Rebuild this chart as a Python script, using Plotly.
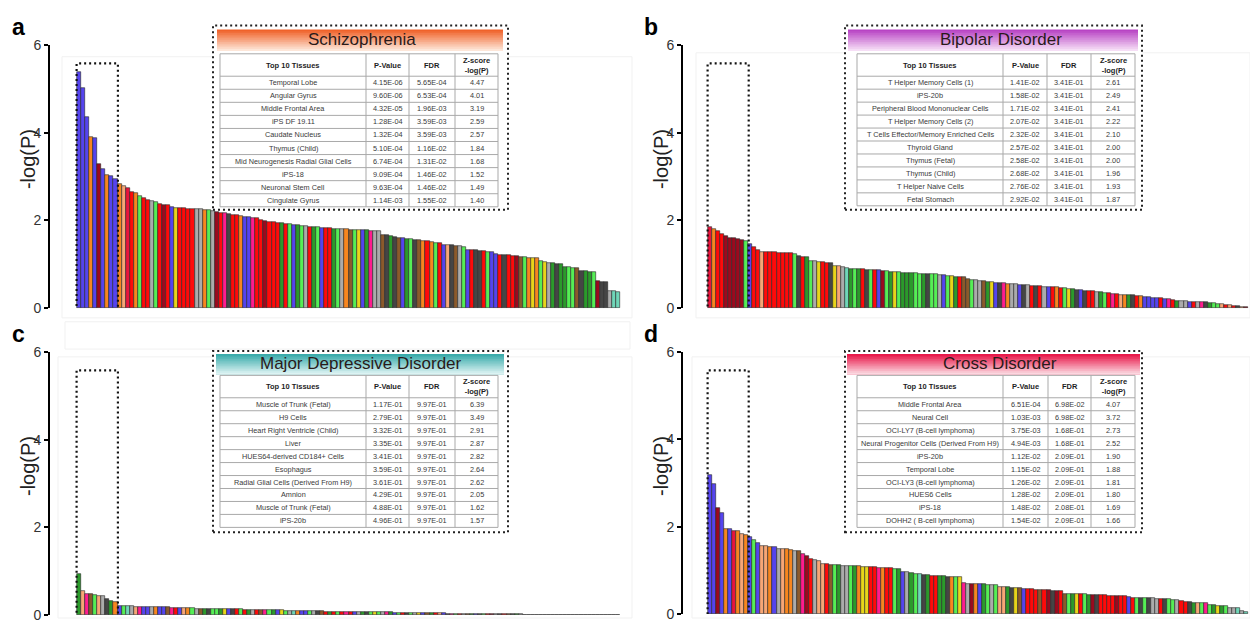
import numpy as np
import plotly.graph_objects as go

W, H = 1250, 626
FONT = "Arial, Liberation Sans, sans-serif"

# ---------------- data ----------------
# Schizophrenia
scz_tissues = ["Temporal Lobe", "Angular Gyrus", "Middle Frontal Area", "iPS DF 19.11",
               "Caudate Nucleus", "Thymus (Child)", "Mid Neurogenesis Radial Glial Cells",
               "iPS-18", "Neuronal Stem Cell", "Cingulate Gyrus"]
scz_p = ["4.15E-06", "9.60E-06", "4.32E-05", "1.28E-04", "1.32E-04",
         "5.10E-04", "6.74E-04", "9.09E-04", "9.63E-04", "1.14E-03"]
scz_fdr = ["5.65E-04", "6.53E-04", "1.96E-03", "3.59E-03", "3.59E-03",
           "1.16E-02", "1.31E-02", "1.46E-02", "1.46E-02", "1.55E-02"]
scz_z = ["4.47", "4.01", "3.19", "2.59", "2.57", "1.84", "1.68", "1.52", "1.49", "1.40"]
scz_rest = [2.82, 2.79, 2.74, 2.64, 2.62, 2.55, 2.51, 2.47, 2.44, 2.42,
            2.38, 2.36, 2.34, 2.31, 2.29, 2.28, 2.28, 2.27, 2.27, 2.26,
            2.25, 2.24, 2.23, 2.21, 2.20, 2.18, 2.16, 2.14, 2.13, 2.12,
            2.10, 2.08, 2.07, 2.06, 2.05, 2.02, 1.99, 1.97, 1.96, 1.95,
            1.93, 1.92, 1.91, 1.90, 1.89, 1.88, 1.87, 1.86, 1.85, 1.84,
            1.83, 1.82, 1.82, 1.81, 1.81, 1.80, 1.80, 1.79, 1.79, 1.78,
            1.77, 1.77, 1.76, 1.76, 1.75, 1.67, 1.66, 1.65, 1.63, 1.61,
            1.59, 1.58, 1.57, 1.56, 1.55, 1.53, 1.52, 1.50, 1.49, 1.48,
            1.45, 1.44, 1.43, 1.42, 1.41, 1.40, 1.33, 1.32, 1.32, 1.31,
            1.30, 1.29, 1.28, 1.23, 1.22, 1.21, 1.20, 1.19, 1.18, 1.17,
            1.16, 1.15, 1.15, 1.14, 1.07, 1.06, 1.04, 1.02, 1.01, 1.00,
            0.94, 0.93, 0.92, 0.91, 0.85, 0.84, 0.83, 0.82, 0.61, 0.60,
            0.59, 0.39, 0.38, 0.37]
scz_groups = ("BBBOBDBOBB" "OSCROLRRGL" "RDRBYRRRRG" "GOLGDRPKRR" "OBBPRRDRRR"
              "FRLBFLGRFL" "BRRFLGONLY" "BFPGGNKFKN" "BFLKNOROLR" "BSKNGLBRKK"
              "RLBBRKRRDN" "LOYOLYGFKF" "FLLNKFFLDK" "KGAA")

# Bipolar Disorder
bip_tissues = ["T Helper Memory Cells (1)", "iPS-20b", "Peripheral Blood Mononuclear Cells",
               "T Helper Memory Cells (2)", "T Cells Effector/Memory Enriched Cells",
               "Thyroid Gland", "Thymus (Fetal)", "Thymus (Child)", "T Helper Naive Cells",
               "Fetal Stomach"]
bip_p = ["1.41E-02", "1.58E-02", "1.71E-02", "2.07E-02", "2.32E-02",
         "2.57E-02", "2.58E-02", "2.68E-02", "2.76E-02", "2.92E-02"]
bip_fdr = ["3.41E-01"] * 10
bip_z = ["2.61", "2.49", "2.41", "2.22", "2.10", "2.00", "2.00", "1.96", "1.93", "1.87"]
bip_rest = [1.46, 1.40, 1.33, 1.29, 1.27, 1.27, 1.27, 1.26, 1.26, 1.26,
            1.25, 1.24, 1.18, 1.17, 1.16, 1.08, 1.07, 1.06, 1.05, 1.04,
            1.03, 0.97, 0.95, 0.93, 0.91, 0.90, 0.90, 0.89, 0.89, 0.88,
            0.88, 0.87, 0.87, 0.85, 0.84, 0.83, 0.83, 0.82, 0.81, 0.80,
            0.80, 0.79, 0.78, 0.78, 0.77, 0.77, 0.77, 0.76, 0.76, 0.74,
            0.73, 0.72, 0.71, 0.70, 0.66, 0.65, 0.64, 0.62, 0.61, 0.60,
            0.59, 0.58, 0.58, 0.57, 0.56, 0.55, 0.54, 0.53, 0.53, 0.52,
            0.51, 0.51, 0.50, 0.49, 0.48, 0.47, 0.47, 0.46, 0.45, 0.44,
            0.43, 0.42, 0.41, 0.40, 0.39, 0.38, 0.37, 0.36, 0.35, 0.34,
            0.33, 0.32, 0.31, 0.30, 0.29, 0.29, 0.28, 0.27, 0.26, 0.25,
            0.24, 0.23, 0.22, 0.21, 0.20, 0.18, 0.17, 0.16, 0.16, 0.15,
            0.15, 0.14, 0.14, 0.13, 0.12, 0.11, 0.10, 0.09, 0.08, 0.07,
            0.05, 0.04, 0.03, 0.02]
bip_groups = ("CORRDDDDDL" "BRRSRRRRRR" "RLKRFLGYRR" "KYSGAFLFRK" "LRBDLFYLFF"
              "FLLFKLLGBL" "YFRNNLGGNF" "YBKPOGGBKG" "RKRGBRORLY" "FKBKRRGFLR"
              "PRSOFKROBB" "BBRBPRFGGB" "RGPKFLLSRS" "RKSD")

# Major Depressive Disorder
mdd_tissues = ["Muscle of Trunk (Fetal)", "H9 Cells", "Heart Right Ventricle (Child)", "Liver",
               "HUES64-derived CD184+ Cells", "Esophagus", "Radial Glial Cells (Derived From H9)",
               "Amnion", "Muscle of Trunk (Fetal)", "iPS-20b"]
mdd_p = ["1.17E-01", "2.79E-01", "3.32E-01", "3.35E-01", "3.41E-01",
         "3.59E-01", "3.61E-01", "4.29E-01", "4.88E-01", "4.96E-01"]
mdd_fdr = ["9.97E-01"] * 10
mdd_z = ["6.39", "3.49", "2.91", "2.87", "2.82", "2.64", "2.62", "2.05", "1.62", "1.57"]
mdd_rest = [0.21, 0.20, 0.20, 0.20, 0.19, 0.19, 0.19, 0.19, 0.18, 0.18,
            0.18, 0.18, 0.18, 0.17, 0.17, 0.16, 0.16, 0.16, 0.16, 0.15,
            0.15, 0.15, 0.15, 0.14, 0.14, 0.14, 0.14, 0.13, 0.13, 0.13,
            0.13, 0.12, 0.12, 0.12, 0.12, 0.12, 0.11, 0.11, 0.11, 0.11,
            0.11, 0.10, 0.10, 0.10, 0.10, 0.10, 0.09, 0.09, 0.09, 0.09,
            0.09, 0.08, 0.08, 0.08, 0.08, 0.08, 0.08, 0.07, 0.07, 0.07,
            0.07, 0.07, 0.07, 0.06, 0.06, 0.06, 0.06, 0.06, 0.05, 0.05,
            0.05, 0.05, 0.05, 0.05, 0.04, 0.04, 0.04, 0.04, 0.04, 0.04,
            0.04, 0.03, 0.03, 0.03, 0.03, 0.03, 0.03, 0.03, 0.03, 0.02,
            0.02, 0.02, 0.02, 0.02, 0.02, 0.02, 0.02, 0.02, 0.02, 0.02,
            0.01, 0.01, 0.01, 0.01, 0.01, 0.01, 0.01, 0.01, 0.01, 0.01,
            0.01, 0.01, 0.01, 0.01, 0.01, 0.01, 0.01, 0.01, 0.01, 0.01,
            0.01, 0.01, 0.005, 0.005]
mdd_groups = ("FSPNLSGKFO" "BLAGSPBBGO" "BBNPRBSOLG" "NFKLLFYBKR" "LRFGRNPLFB"
              "YLGAOBBLGK" "NRFRLRPRBG" "FKLYLGPFBL" "RKLGYBNFRS" "BKPLRGNFBK"
              "LRDGKRNKFG" "RBLNKGSKDR" "KNGDKGKNKG" "KNKG")

# Cross Disorder
crs_tissues = ["Middle Frontal Area", "Neural Cell", "OCI-LY7 (B-cell lymphoma)",
               "Neural Progenitor Cells (Derived From H9)", "iPS-20b", "Temporal Lobe",
               "OCI-LY3 (B-cell lymphoma)", "HUES6 Cells", "iPS-18", "DOHH2 ( B-cell lymphoma)"]
crs_p = ["6.51E-04", "1.03E-03", "3.75E-03", "4.94E-03", "1.12E-02",
         "1.15E-02", "1.26E-02", "1.28E-02", "1.48E-02", "1.54E-02"]
crs_fdr = ["6.98E-02", "6.98E-02", "1.68E-01", "1.68E-01", "2.09E-01",
           "2.09E-01", "2.09E-01", "2.09E-01", "2.08E-01", "2.09E-01"]
crs_z = ["4.07", "3.72", "2.73", "2.52", "1.90", "1.88", "1.81", "1.80", "1.69", "1.66"]
crs_rest = [1.77, 1.70, 1.62, 1.56, 1.55, 1.54, 1.53, 1.49, 1.49, 1.48,
            1.46, 1.45, 1.44, 1.38, 1.33, 1.26, 1.25, 1.22, 1.15, 1.14,
            1.13, 1.12, 1.12, 1.11, 1.11, 1.10, 1.10, 1.10, 1.09, 1.09,
            1.08, 1.07, 1.06, 1.06, 1.05, 1.05, 1.04, 1.03, 0.97, 0.96,
            0.94, 0.92, 0.91, 0.90, 0.89, 0.88, 0.88, 0.87, 0.87, 0.86,
            0.85, 0.85, 0.84, 0.71, 0.70, 0.70, 0.69, 0.68, 0.68, 0.67,
            0.66, 0.66, 0.62, 0.61, 0.61, 0.60, 0.60, 0.59, 0.58, 0.58,
            0.57, 0.56, 0.56, 0.55, 0.55, 0.54, 0.54, 0.53, 0.47, 0.47,
            0.46, 0.46, 0.45, 0.45, 0.44, 0.44, 0.44, 0.43, 0.43, 0.42,
            0.42, 0.41, 0.41, 0.41, 0.40, 0.38, 0.38, 0.37, 0.37, 0.36,
            0.36, 0.35, 0.35, 0.34, 0.34, 0.33, 0.33, 0.29, 0.28, 0.27,
            0.26, 0.26, 0.25, 0.25, 0.21, 0.20, 0.19, 0.18, 0.18, 0.14,
            0.14, 0.13, 0.07, 0.06]
crs_groups = ("BBDBOBCOSO" "BLBSSOBGSO" "OGNPDRGSSR" "NLFGGLFOYY" "RRPORRLFBG"
              "FLAKFRRFFK" "OLYPGDOBFL" "GLSSFKYNBR" "RRNRDKDRNL" "FYRLFDKRRR"
              "RDRRBRLKLK" "GGRKLLGRRK" "FSLPLFYFLG" "GAGA")

table_header = ["<b>Top 10 Tissues</b>", "<b>P-Value</b>", "<b>FDR</b>",
                "<b>Z-score<br>-log(P)</b>"]

# tissue-group colour key
group_colors = {
    "B": "#5544ee", "O": "#f7861f", "D": "#9b0a1e", "R": "#ff0a0a",
    "P": "#ff1c8e", "G": "#ababab", "L": "#55ee55", "F": "#2b9a2b",
    "Y": "#e8d51a", "N": "#8b5a2b", "K": "#454545", "S": "#f7a676",
    "A": "#6fd6b8", "C": "#e8143c",
}

# ---------------- layout of the four panels (pixel positions) ----------------
panels = [
    dict(letter="a", title="Schizophrenia", tissues=scz_tissues, p=scz_p, fdr=scz_fdr,
         z=scz_z, rest=scz_rest, groups=scz_groups,
         axis_x=50, bar_l=77, bar_r=620, right=632, top=38, bottom=308,
         box=(213, 18, 508, 207), band=(217, 22, 503, 44), title_x=362,
         cols=(220, 366, 409, 455, 498), rows=(47, 70, 204),
         band_cols=("#f0622a", "#fde6d8")),
    dict(letter="b", title="Bipolar Disorder", tissues=bip_tissues, p=bip_p, fdr=bip_fdr,
         z=bip_z, rest=bip_rest, groups=bip_groups,
         axis_x=683, bar_l=708, bar_r=1248, right=1250, top=38, bottom=308,
         box=(845, 18, 1142, 207), band=(848, 22, 1138, 44), title_x=1001,
         cols=(857, 1003, 1047, 1091, 1135), rows=(47, 70, 203),
         band_cols=("#b844c4", "#f6def6")),
    dict(letter="c", title="Major Depressive Disorder", tissues=mdd_tissues, p=mdd_p,
         fdr=mdd_fdr, z=mdd_z, rest=mdd_rest, groups=mdd_groups,
         axis_x=50, bar_l=77, bar_r=620, right=632, top=353, bottom=623,
         box=(213, 352, 508, 538), band=(216, 355, 504, 376), title_x=361,
         cols=(220, 366, 409, 455, 498), rows=(377, 400, 533),
         band_cols=("#3aabab", "#dcf2f2")),
    dict(letter="d", title="Cross Disorder", tissues=crs_tissues, p=crs_p, fdr=crs_fdr,
         z=crs_z, rest=crs_rest, groups=crs_groups,
         axis_x=683, bar_l=708, bar_r=1248, right=1250, top=353, bottom=622,
         box=(845, 352, 1142, 538), band=(847, 355, 1140, 376), title_x=1000,
         cols=(857, 1003, 1048, 1091, 1135), rows=(377, 400, 533),
         band_cols=("#e8194a", "#fbd6df")),
]


def px(x):
    return x / W


def py(y):
    return 1 - y / H


def mix(c1, c2, t):
    a = [int(c1[i:i + 2], 16) for i in (1, 3, 5)]
    b = [int(c2[i:i + 2], 16) for i in (1, 3, 5)]
    return "#" + "".join(f"{round(a[k] + (b[k] - a[k]) * t):02x}" for k in range(3))


def hline(x0, x1, y, color, width=1):
    return dict(type="line", xref="paper", yref="paper", x0=px(x0), x1=px(x1),
                y0=py(y), y1=py(y), line=dict(color=color, width=width))


def vline(x, y0, y1, color, width=1):
    return dict(type="line", xref="paper", yref="paper", x0=px(x), x1=px(x),
                y0=py(y0), y1=py(y1), line=dict(color=color, width=width))


def text(s, x, y, size, color, **kw):
    return dict(text=s, xref="paper", yref="paper", x=px(x), y=py(y), showarrow=False,
                xanchor="center", yanchor="middle",
                font=dict(size=size, color=color, family=FONT), **kw)


fig = go.Figure()
shapes, annotations = [], []
layout_axes = {}

# faint frames behind the panels
for (x0, y0, x1, y1) in [(62, 50, 632, 318), (696, 46, 1250, 318),
                         (65, 322, 630, 350), (58, 358, 632, 626), (692, 358, 1250, 626)]:
    shapes.append(dict(type="rect", xref="paper", yref="paper", x0=px(x0), x1=px(x1),
                       y0=py(y1), y1=py(y0), line=dict(color="#f1f1f1", width=1),
                       layer="below"))

for i, pn in enumerate(panels):
    k = "" if i == 0 else str(i + 1)
    xa, ya = "x" + k, "y" + k
    top10 = [-np.log10(float(s)) for s in pn["p"]]
    heights = top10 + pn["rest"]
    n = len(heights)
    assert len(pn["groups"]) == n
    colors = [group_colors[c] for c in pn["groups"]]

    fig.add_trace(go.Bar(x=list(range(n)), y=heights, width=1.0,
                         marker=dict(color=colors, line=dict(color="#262626", width=0.6)),
                         xaxis=xa, yaxis=ya, showlegend=False, hoverinfo="y"))

    w = (pn["bar_r"] - pn["bar_l"]) / n
    x_lo = -0.5 - (pn["bar_l"] - pn["axis_x"]) / w
    x_hi = n - 0.5 + (pn["right"] - pn["bar_r"]) / w
    layout_axes["xaxis" + k] = dict(domain=[px(pn["axis_x"]), px(pn["right"])],
                                    range=[x_lo, x_hi], visible=False, anchor=ya,
                                    fixedrange=True)
    layout_axes["yaxis" + k] = dict(domain=[py(pn["bottom"]), py(pn["top"])],
                                    range=[0, 6], tickvals=[0, 2, 4, 6], anchor=xa,
                                    showline=True, linecolor="black", linewidth=2,
                                    ticks="outside", ticklen=4, tickwidth=2,
                                    tickcolor="black", showgrid=False, zeroline=False,
                                    tickfont=dict(size=14, color="#333333", family=FONT),
                                    fixedrange=True)

    # dotted frame around the top ten tissues
    shapes.append(dict(type="rect", xref=xa, yref=ya, x0=-0.6, x1=9.6, y0=-0.05, y1=5.58,
                       line=dict(color="#111111", width=2.2, dash="2px,3px")))

    # table panel: dotted frame, graded title band, title
    bx0, by0, bx1, by1 = pn["box"]
    shapes.append(dict(type="rect", xref="paper", yref="paper", x0=px(bx0), x1=px(bx1),
                       y0=py(by1), y1=py(by0), fillcolor="white",
                       line=dict(color="#222222", width=2, dash="2px,3px")))
    gx0, gy0, gx1, gy1 = pn["band"]
    steps = 12
    for s in range(steps):
        ya0 = gy0 + (gy1 - gy0) * s / steps
        shapes.append(dict(type="rect", xref="paper", yref="paper", x0=px(gx0), x1=px(gx1),
                           y0=py(gy1), y1=py(ya0), line=dict(width=0),
                           fillcolor=mix(pn["band_cols"][0], pn["band_cols"][1],
                                         s / (steps - 1))))
    annotations.append(text(pn["title"], pn["title_x"], (gy0 + gy1) / 2 - 1, 17, "#2a1a1a"))

    # top-ten table: grid lines and cell text
    cols = pn["cols"]
    r_top, r_head, r_bot = pn["rows"]
    row_h = (r_bot - r_head) / 10
    grid = "#a9a9a9"
    shapes.append(hline(cols[0], cols[-1], r_top, grid))
    for r in range(11):
        shapes.append(hline(cols[0], cols[-1], r_head + r * row_h, grid))
    for cx in cols:
        shapes.append(vline(cx, r_top, r_bot, grid))
    centers = [(cols[c] + cols[c + 1]) / 2 for c in range(4)]
    for c in range(4):
        annotations.append(text(table_header[c], centers[c], (r_top + r_head) / 2, 7.5,
                                "#1e1e1e"))
    columns = [pn["tissues"], pn["p"], pn["fdr"], pn["z"]]
    for r in range(10):
        yc = r_head + (r + 0.5) * row_h
        for c in range(4):
            annotations.append(text(columns[c][r], centers[c], yc, 7.3, "#3a3a3a"))

    # panel letter and axis title
    annotations.append(text("<b>" + pn["letter"] + "</b>", pn["axis_x"] - 32,
                            pn["top"] - 18, 23, "black"))
    annotations.append(text("-log(P)", pn["axis_x"] - 22, pn["top"] + 117, 20, "#222222",
                            textangle=-90))

fig.update_layout(width=W, height=H, margin=dict(l=0, r=0, t=0, b=0),
                  paper_bgcolor="white", plot_bgcolor="rgba(0,0,0,0)",
                  bargap=0, shapes=shapes, annotations=annotations,
                  font=dict(family=FONT), **layout_axes)

fig.write_html("out.html")
